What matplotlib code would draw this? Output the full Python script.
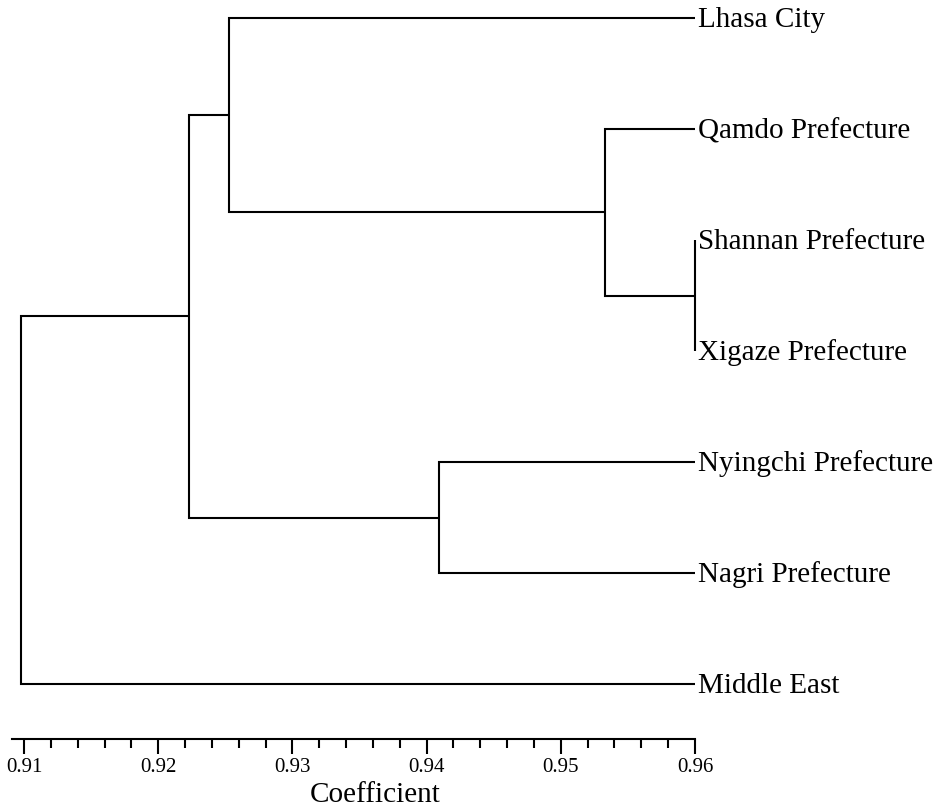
import matplotlib
matplotlib.use("Agg")
import matplotlib.pyplot as plt
from matplotlib.ticker import FormatStrFormatter

plt.rcParams["font.family"] = ["Liberation Serif", "DejaVu Serif"]

# Leaves, top to bottom
labels = ["Lhasa City", "Qamdo Prefecture", "Shannan Prefecture",
          "Xigaze Prefecture", "Nyingchi Prefecture", "Nagri Prefecture",
          "Middle East"]

# Agglomeration steps: (child a, child b, coefficient); new nodes get ids 7, 8, ...
merge_a = [2, 1, 0, 4, 9, 11]
merge_b = [3, 7, 8, 5, 10, 6]
merge_coef = [0.9600, 0.9533, 0.9253, 0.9409, 0.9223, 0.9098]

leaf_coef = 0.96
axis_min, axis_max = 0.91, 0.96
major_ticks = [0.91, 0.92, 0.93, 0.94, 0.95, 0.96]

W, H = 936, 810
fig = plt.figure(figsize=(W / 100, H / 100), dpi=100)

# pixel geometry of the plotting area
x0_px, px_per_unit = 24.0, 13420.0
top_leaf_px, leaf_step_px = 18.0, 111.0
axis_px = 739.0

ax = fig.add_axes([0, (H - axis_px) / H, 1, axis_px / H])
ax.set_xlim(axis_min - x0_px / px_per_unit, axis_min + (W - x0_px) / px_per_unit)
ax.set_ylim((axis_px - top_leaf_px) / leaf_step_px, -top_leaf_px / leaf_step_px)

lw = 1.5
pos_x = {i: leaf_coef for i in range(len(labels))}
pos_y = {i: float(i) for i in range(len(labels))}
node = len(labels)
for a, b, c in zip(merge_a, merge_b, merge_coef):
    ax.plot([pos_x[a], c, c, pos_x[b]], [pos_y[a], pos_y[a], pos_y[b], pos_y[b]],
            color="black", lw=lw, solid_joinstyle="miter", solid_capstyle="butt")
    pos_x[node] = c
    pos_y[node] = (pos_y[a] + pos_y[b]) / 2
    node += 1

for i, name in enumerate(labels):
    ax.text(leaf_coef + 3 / px_per_unit, i + 2 / leaf_step_px, name, fontsize=21,
            ha="left", va="center")

for s in ["left", "right", "top"]:
    ax.spines[s].set_visible(False)
ax.spines["bottom"].set_linewidth(1.5)
ax.spines["bottom"].set_bounds(axis_min - 12 / px_per_unit, axis_max)
ax.set_yticks([])
ax.set_xticks(major_ticks)
ax.xaxis.set_major_formatter(FormatStrFormatter("%.2f"))
ax.set_xticks([axis_min + k * 0.002 for k in range(1, 25) if k % 5], minor=True)
ax.tick_params(axis="x", which="major", direction="out", length=10.8, width=1.5,
               labelsize=15, pad=3.0)
ax.tick_params(axis="x", which="minor", direction="out", length=6.5, width=1.5)
ax.set_facecolor("white")

fig.text(375 / W, 8.3 / H, "Coefficient", fontsize=21, ha="center", va="baseline")

fig.savefig("out.png", dpi=100, facecolor="white")
